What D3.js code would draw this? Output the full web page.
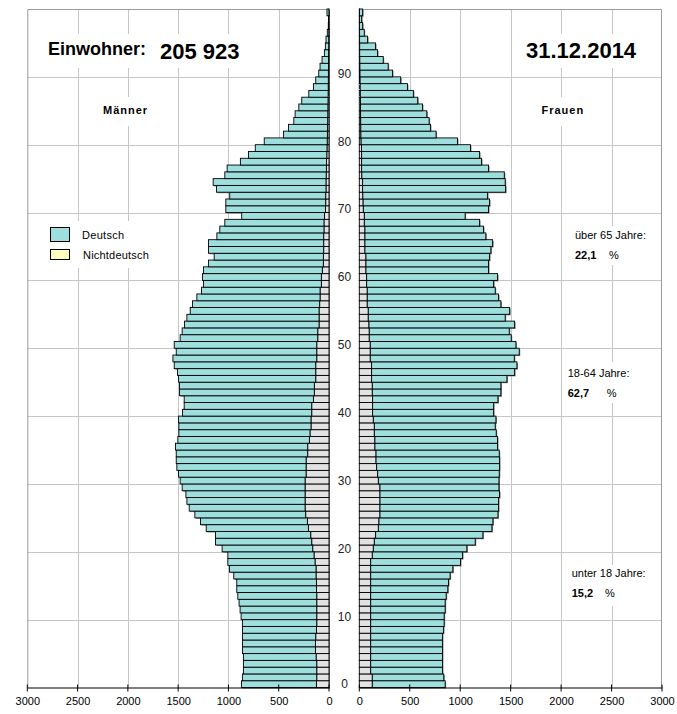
<!DOCTYPE html>
<html><head><meta charset="utf-8">
<script src="https://cdn.jsdelivr.net/npm/d3@7"></script>
<style>
html,body{margin:0;padding:0;background:#fff;}
svg{display:block;font-family:Arial,"Liberation Sans",sans-serif;}
</style></head>
<body><svg id="c" width="677" height="714"></svg>
<script>
// ---- data (age 0 .. 99) ----
const ages = d3.range(0, 100);
const totalMen = [870,861,851,851,851,860,860,860,860,861,874,884,894,907,917,917,947,990,1006,1006,
1063,1129,1129,1221,1278,1334,1390,1413,1423,1460,1480,1496,1513,1519,1519,1526,1503,1493,1493,1496,
1456,1440,1440,1486,1486,1496,1506,1539,1552,1519,1539,1480,1460,1437,1413,1380,1357,1314,1268,1248,
1258,1248,1198,1142,1198,1198,1115,1086,1036,868,1026,1026,987,1119,1152,1036,1013,881,800,733,
644,452,403,350,337,300,271,201,155,132,102,89,69,46,36,30,17,7,5,20];
const nichtdeutschMen = [125,122,122,122,128,135,135,132,125,122,122,122,122,122,125,125,129,129,139,149,
162,172,182,205,215,232,238,238,238,238,238,228,228,228,212,212,195,189,179,179,
172,172,155,146,146,132,132,132,122,122,122,112,112,99,99,99,93,89,89,76,
76,66,56,56,53,53,53,50,50,45,35,33,33,30,30,28,26,25,22,20,
18,16,14,13,12,11,10,9,8,7,6,5,5,4,3,3,2,1,1,1];
const totalWomen = [851,837,824,824,824,824,824,824,834,841,841,851,851,861,877,884,900,927,1003,1023,
1066,1149,1225,1314,1324,1374,1380,1380,1390,1384,1384,1387,1390,1390,1387,1370,1370,1357,1347,1354,
1331,1331,1374,1403,1403,1463,1539,1562,1536,1585,1552,1506,1486,1539,1446,1490,1403,1380,1347,1331,
1370,1281,1281,1291,1304,1321,1254,1231,1192,1049,1281,1291,1271,1450,1446,1437,1281,1211,1192,1102,
973,761,705,692,669,626,579,536,477,410,329,286,237,181,161,82,49,33,23,33];
const nichtdeutschWomen = [129,129,113,113,113,113,113,113,113,113,113,113,113,113,113,113,113,113,113,129,
139,149,162,189,195,205,205,205,205,205,189,182,172,166,166,155,155,149,149,139,
132,132,132,129,129,122,122,122,109,109,109,99,99,96,89,89,79,79,79,73,
73,66,66,66,56,56,56,56,50,50,40,38,35,33,33,25,23,23,23,22,
18,16,15,14,13,12,11,10,9,8,7,6,5,4,4,3,3,2,2,2];
const deutschMen = totalMen.map((t,i)=>t-nichtdeutschMen[i]);
const deutschWomen = totalWomen.map((t,i)=>t-nichtdeutschWomen[i]);
const xTicks = [0,500,1000,1500,2000,2500,3000];
const ageTicks = [0,10,20,30,40,50,60,70,80,90];
const legendLabels = ["Deutsch","Nichtdeutsch"];
const shareLabels = ["über 65 Jahre:","18-64 Jahre:","unter 18 Jahre:"];
const shareValues = ["22,1","62,7","15,2"];

// ---- layout ----
const svg = d3.select("#c");
const colD = "#9edfde", colN = "#e2e2e2", colNLegend = "#ffffc0";
const topY = 9, bottomY = 687.5;
const xL = d3.scaleLinear().domain([0,3000]).range([329,27.3]);
const xR = d3.scaleLinear().domain([0,3000]).range([359.3,662]);
const y = d3.scaleLinear().domain([0,100]).range([bottomY, topY]);

// grid
const grid = svg.append("g").attr("stroke","#c6c6c6").attr("stroke-width",1);
[xL, xR].forEach(xs=>{
  xTicks.slice(1,-1).forEach(v=>{
    grid.append("line").attr("x1",Math.round(xs(v))+0.5).attr("x2",Math.round(xs(v))+0.5)
      .attr("y1",topY).attr("y2",bottomY);
  });
  ageTicks.slice(1).forEach(a=>{
    grid.append("line").attr("x1",xs(0)).attr("x2",xs(3000))
      .attr("y1",Math.round(y(a))+0.5).attr("y2",Math.round(y(a))+0.5);
  });
});
// panel frames
const frame = svg.append("g").attr("stroke","#9a9a9a").attr("fill","none");
frame.append("path").attr("d",`M${xL(0)},${topY+0.5}H${xL(3000)+0.5}V${bottomY}`);
frame.append("path").attr("d",`M${xR(0)},${topY+0.5}H${xR(3000)-0.5}V${bottomY}`);

// white boxes behind texts (interrupt gridlines)
const boxes = [[44,34,202,34],[520,34,122,34],[98,97,57,29],[536,97,54,29],[42,221,108,47],
  [567,226,92,39],[562,362,97,41],[566,565,93,41]];
svg.append("g").selectAll("rect").data(boxes).join("rect")
  .attr("x",d=>d[0]).attr("y",d=>d[1]).attr("width",d=>d[2]).attr("height",d=>d[3]).attr("fill","#fff");

// bars
function drawSide(xs, dArr, nArr){
  const g = svg.append("g");
  const rows = ages.map(a=>({a, n:nArr[a], d:dArr[a]}));
  const stack = d3.stack().keys(["n","d"])(rows);
  const h = y(0)-y(1);
  g.selectAll("rect.sh").data(rows).join("rect").attr("class","sh")
    .attr("x",r=>Math.min(xs(0),xs(r.n+r.d))+1).attr("y",r=>y(r.a+1)+1)
    .attr("width",r=>Math.abs(xs(r.n+r.d)-xs(0))).attr("height",h)
    .attr("fill","#7a7a7a");
  stack.forEach((s,k)=>{
    g.selectAll("rect.s"+k).data(s).join("rect").attr("class","s"+k)
      .attr("x",p=>Math.min(xs(p[0]),xs(p[1]))).attr("y",p=>y(p.data.a+1))
      .attr("width",p=>Math.abs(xs(p[1])-xs(p[0]))).attr("height",h)
      .attr("fill",k===0?colN:colD).attr("stroke","#000").attr("stroke-width",0.9);
  });
}
drawSide(xL, deutschMen, nichtdeutschMen);
drawSide(xR, deutschWomen, nichtdeutschWomen);

// x axes
function axis(xs){
  const g = svg.append("g").attr("transform",`translate(0,${bottomY})`)
    .call(d3.axisBottom(xs).tickValues(xTicks).tickSize(0).tickPadding(10).tickFormat(d3.format("d")));
  g.select(".domain").attr("stroke","#000").attr("stroke-width",1.2);
  g.selectAll("text").attr("font-size",11).attr("fill","#000").attr("font-family","Arial,'Liberation Sans',sans-serif");
  xTicks.forEach(v=>g.append("line").attr("x1",xs(v)).attr("x2",xs(v)).attr("y1",-3).attr("y2",4).attr("stroke","#000"));
}
axis(xL); axis(xR);

// age labels
svg.append("g").selectAll("text").data(ageTicks).join("text")
  .attr("x",344.5).attr("y",a=>y(a+0.5)).attr("dy","0.36em").attr("text-anchor","middle")
  .attr("font-size",12).attr("fill","#222").text(a=>a);

// titles
svg.append("text").attr("x",48).attr("y",55).attr("font-size",18).attr("font-weight","bold").text("Einwohner:");
svg.append("text").attr("x",160).attr("y",59).attr("font-size",22).attr("font-weight","bold").text("205 923");
svg.append("text").attr("x",526).attr("y",58).attr("font-size",22).attr("font-weight","bold").text("31.12.2014");
svg.append("text").attr("x",103).attr("y",113.5).attr("font-size",11).attr("font-weight","bold").attr("letter-spacing",1).text("Männer");
svg.append("text").attr("x",541.5).attr("y",113.5).attr("font-size",11).attr("font-weight","bold").attr("letter-spacing",1).text("Frauen");

// legend
const lg = svg.append("g");
lg.append("rect").attr("x",50.5).attr("y",227.5).attr("width",19).attr("height",14).attr("fill",colD).attr("stroke","#000");
lg.append("rect").attr("x",50.5).attr("y",249.5).attr("width",19).attr("height",10).attr("fill",colNLegend).attr("stroke","#000");
lg.append("text").attr("x",82).attr("y",238.5).attr("font-size",11).attr("letter-spacing",0.3).text(legendLabels[0]);
lg.append("text").attr("x",83).attr("y",258.5).attr("font-size",11).attr("letter-spacing",0.2).text(legendLabels[1]);

// shares
const sharePos = [[575,238.5,258.5,609],[567.7,377,397,606.7],[571.7,576.5,596.5,605]];
sharePos.forEach((p,i)=>{
  svg.append("text").attr("x",p[0]).attr("y",p[1]).attr("font-size",11).text(shareLabels[i]);
  svg.append("text").attr("x",p[0]).attr("y",p[2]).attr("font-size",11).attr("font-weight","bold").text(shareValues[i]);
  svg.append("text").attr("x",p[3]).attr("y",p[2]).attr("font-size",11).text("%");
});
</script></body></html>
